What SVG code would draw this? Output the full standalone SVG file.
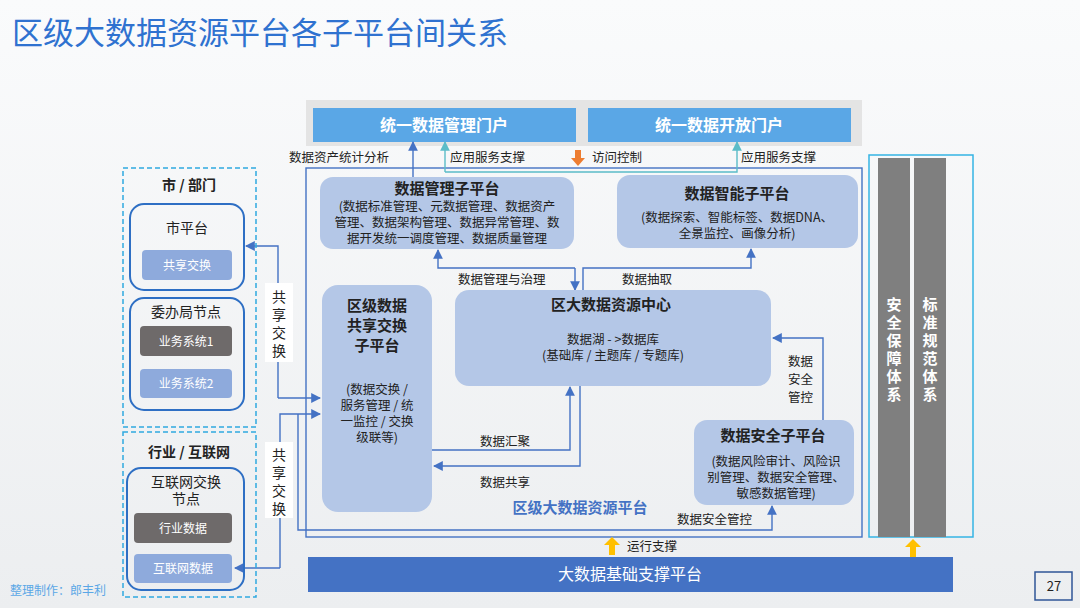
<svg xmlns="http://www.w3.org/2000/svg" width="1080" height="608" viewBox="0 0 1080 608">
<defs>
<style>
text{font-family:"Noto Sans CJK SC","Liberation Sans",sans-serif;fill:#222;}
.node{fill:#b4c7e7;}
.t{font-size:12.5px;}
.b{font-weight:bold;}
.w{fill:#fff;}
.ln{fill:none;stroke:#4472c4;stroke-width:1.4;}
.lt{fill:none;stroke:#5bbcc8;stroke-width:1.4;}
.dash{fill:none;stroke:#2fa9e0;stroke-width:1.5;stroke-dasharray:5 3;}
.ring{fill:none;stroke:#2e6fc4;stroke-width:2;}
</style>
<marker id="a" viewBox="0 0 10 10" refX="9" refY="5" markerWidth="7" markerHeight="7" orient="auto"><path d="M0,0L10,5L0,10z" fill="#4472c4"/></marker>
<marker id="at" viewBox="0 0 10 10" refX="9" refY="5" markerWidth="7" markerHeight="7" orient="auto"><path d="M0,0L10,5L0,10z" fill="#5bbcc8"/></marker>
<linearGradient id="bg" x1="0" y1="0" x2="0" y2="1"><stop offset="0" stop-color="#fafbfc"/><stop offset="1" stop-color="#eceef0"/></linearGradient>
</defs>
<rect width="1080" height="608" fill="url(#bg)"/>
<text x="12" y="44" style="font-size:31px;fill:#2f72d0">区级大数据资源平台各子平台间关系</text>

<g id="portals">
<rect x="306" y="100" width="556" height="46" fill="#e4e4e4"/>
<rect x="313" y="108" width="263" height="34" fill="#5aa7e6"/>
<text x="444" y="131" text-anchor="middle" class="w b" style="font-size:16px">统一数据管理门户</text>
<rect x="588" y="108" width="263" height="34" fill="#5aa7e6"/>
<text x="719" y="131" text-anchor="middle" class="w b" style="font-size:16px">统一数据开放门户</text>
</g>

<g id="connectors">
<rect x="306" y="168" width="556" height="369" class="ln"/>
<path d="M413,178V142" class="ln" marker-end="url(#a)"/>
<path d="M445,172H737V142" class="lt" marker-end="url(#at)"/>
<path d="M445,172V142" class="lt" marker-end="url(#at)"/>
<path d="M575,268H438V250" class="ln" marker-end="url(#a)"/>
<path d="M575,268V290" class="ln" marker-end="url(#a)"/>
<path d="M583,290V268H751V249" class="ln" marker-end="url(#a)"/>
<path d="M823,420V338H773" class="ln" marker-end="url(#a)"/>
<path d="M432,450H570V387" class="ln" marker-end="url(#a)"/>
<path d="M580,386V466H434" class="ln" marker-end="url(#a)"/>
<path d="M278,398V246H246" class="ln" marker-end="url(#a)"/>
<path d="M278,398H320" class="ln" marker-end="url(#a)"/>
<path d="M280,568V414H320" class="ln" marker-end="url(#a)"/>
<path d="M280,568H235" class="ln" marker-end="url(#a)"/>
<path d="M298,414V530H772V506" class="ln" marker-end="url(#a)"/>
<path d="M578,150V160" stroke="#ed7d31" stroke-width="6"/>
<path d="M571,158L578,166L585,158z" fill="#ed7d31"/>
<path d="M612,555V543" stroke="#ffc000" stroke-width="6"/>
<path d="M604,545L612,537L620,545z" fill="#ffc000"/>
<path d="M913,557V545" stroke="#ffc000" stroke-width="6"/>
<path d="M905,547L913,539L921,547z" fill="#ffc000"/>
</g>

<g id="labels" class="t">
<text x="289" y="162">数据资产统计分析</text>
<text x="450" y="162">应用服务支撑</text>
<text x="592" y="162">访问控制</text>
<text x="741" y="162">应用服务支撑</text>
<text x="458" y="284">数据管理与治理</text>
<text x="622" y="284">数据抽取</text>
<text x="788" y="366">数据</text><text x="788" y="384">安全</text><text x="788" y="402">管控</text>
<text x="480" y="446">数据汇聚</text>
<text x="480" y="487">数据共享</text>
<text x="677" y="524">数据安全管控</text>
<text x="627" y="551">运行支撑</text>
<text x="580" y="513" text-anchor="middle" class="b" style="font-size:15px;fill:#4472c4">区级大数据资源平台</text>
</g>

<g id="mgmt">
<rect x="320" y="177" width="254" height="72" rx="13" class="node"/>
<text x="447" y="194" text-anchor="middle" class="b" style="font-size:15px">数据管理子平台</text>
<text x="447" y="211" text-anchor="middle" class="t">(数据标准管理、元数据管理、数据资产</text>
<text x="447" y="227" text-anchor="middle" class="t">管理、数据架构管理、数据异常管理、数</text>
<text x="447" y="243" text-anchor="middle" class="t">据开发统一调度管理、数据质量管理</text>
</g>
<g id="intel">
<rect x="617" y="175" width="241" height="73" rx="13" class="node"/>
<text x="737" y="199" text-anchor="middle" class="b" style="font-size:15px">数据智能子平台</text>
<text x="737" y="222" text-anchor="middle" class="t">(数据探索、智能标签、数据DNA、</text>
<text x="737" y="238" text-anchor="middle" class="t">全景监控、画像分析)</text>
</g>
<g id="share">
<rect x="322" y="285" width="110" height="227" rx="16" class="node"/>
<text x="377" y="311" text-anchor="middle" class="b" style="font-size:15px">区级数据</text>
<text x="377" y="331" text-anchor="middle" class="b" style="font-size:15px">共享交换</text>
<text x="377" y="351" text-anchor="middle" class="b" style="font-size:15px">子平台</text>
<text x="377" y="394" text-anchor="middle" class="t">(数据交换 /</text>
<text x="377" y="410" text-anchor="middle" class="t">服务管理 / 统</text>
<text x="377" y="426" text-anchor="middle" class="t">一监控 / 交换</text>
<text x="377" y="442" text-anchor="middle" class="t">级联等)</text>
</g>
<g id="center">
<rect x="455" y="290" width="316" height="96" rx="14" class="node"/>
<text x="611" y="310" text-anchor="middle" class="b" style="font-size:15px">区大数据资源中心</text>
<text x="613" y="344" text-anchor="middle" class="t">数据湖 - &gt;数据库</text>
<text x="613" y="360" text-anchor="middle" class="t">(基础库 / 主题库 / 专题库)</text>
</g>
<g id="security">
<rect x="694" y="420" width="160" height="85" rx="13" class="node"/>
<text x="773" y="441" text-anchor="middle" class="b" style="font-size:15px">数据安全子平台</text>
<text x="776" y="466" text-anchor="middle" class="t">(数据风险审计、风险识</text>
<text x="776" y="482" text-anchor="middle" class="t">别管理、数据安全管理、</text>
<text x="776" y="498" text-anchor="middle" class="t">敏感数据管理)</text>
</g>

<g id="city">
<rect x="123" y="168" width="133" height="259" class="dash"/>
<text x="189" y="190" text-anchor="middle" class="b" style="font-size:14px">市 / 部门</text>
<rect x="130" y="204" width="114" height="86" rx="14" class="ring"/>
<text x="187" y="233" text-anchor="middle" style="font-size:14px">市平台</text>
<rect x="142" y="250" width="90" height="30" rx="4" fill="#8eaadc"/>
<text x="187" y="270" text-anchor="middle" class="w" style="font-size:12px">共享交换</text>
<rect x="130" y="298" width="114" height="112" rx="14" class="ring"/>
<text x="186" y="317" text-anchor="middle" style="font-size:14px">委办局节点</text>
<rect x="140" y="326" width="92" height="30" rx="4" fill="#6e6a6a"/>
<text x="186" y="346" text-anchor="middle" class="w" style="font-size:12px">业务系统1</text>
<rect x="140" y="369" width="92" height="29" rx="4" fill="#8eaadc"/>
<text x="186" y="388" text-anchor="middle" class="w" style="font-size:12px">业务系统2</text>
</g>
<g id="industry">
<rect x="123" y="432" width="133" height="165" class="dash"/>
<text x="189" y="457" text-anchor="middle" class="b" style="font-size:14px">行业 / 互联网</text>
<rect x="127" y="468" width="117" height="122" rx="14" class="ring"/>
<text x="186" y="487" text-anchor="middle" style="font-size:14px">互联网交换</text>
<text x="186" y="504" text-anchor="middle" style="font-size:14px">节点</text>
<rect x="134" y="513" width="98" height="30" rx="4" fill="#6e6a6a"/>
<text x="183" y="533" text-anchor="middle" class="w" style="font-size:12px">行业数据</text>
<rect x="134" y="554" width="98" height="29" rx="4" fill="#8eaadc"/>
<text x="183" y="573" text-anchor="middle" class="w" style="font-size:12px">互联网数据</text>
</g>
<g id="xlabels">
<rect x="265" y="283" width="28" height="79" fill="#fff"/>
<text x="279" y="302" text-anchor="middle" style="font-size:14px">共</text>
<text x="279" y="320" text-anchor="middle" style="font-size:14px">享</text>
<text x="279" y="338" text-anchor="middle" style="font-size:14px">交</text>
<text x="279" y="356" text-anchor="middle" style="font-size:14px">换</text>
<rect x="265" y="442" width="28" height="76" fill="#fff"/>
<text x="279" y="460" text-anchor="middle" style="font-size:14px">共</text>
<text x="279" y="478" text-anchor="middle" style="font-size:14px">享</text>
<text x="279" y="496" text-anchor="middle" style="font-size:14px">交</text>
<text x="279" y="514" text-anchor="middle" style="font-size:14px">换</text>
</g>
<g id="systems">
<rect x="869" y="155" width="104" height="382" fill="none" stroke="#34b4e4" stroke-width="1.5"/>
<rect x="878" y="158" width="32" height="379" fill="#7f7f7f"/>
<rect x="914" y="158" width="32" height="379" fill="#7f7f7f"/>
<g class="w b" style="font-size:15px" text-anchor="middle">
<text x="894" y="310" class="w">安</text><text x="894" y="328" class="w">全</text><text x="894" y="346" class="w">保</text><text x="894" y="364" class="w">障</text><text x="894" y="382" class="w">体</text><text x="894" y="400" class="w">系</text>
<text x="930" y="310" class="w">标</text><text x="930" y="328" class="w">准</text><text x="930" y="346" class="w">规</text><text x="930" y="364" class="w">范</text><text x="930" y="382" class="w">体</text><text x="930" y="400" class="w">系</text>
</g>
</g>
<g id="base">
<rect x="308" y="557" width="645" height="35" fill="#4472c4"/>
<text x="630" y="580" text-anchor="middle" class="w" style="font-size:16px">大数据基础支撑平台</text>
</g>
<rect x="1035" y="572" width="37" height="28" fill="none" stroke="#2f5597" stroke-width="1.5"/>
<text x="1054" y="591" text-anchor="middle" style="font-size:13px">27</text>
<text x="10" y="595" style="font-size:12px;fill:#5aa7e6">整理制作：郎丰利</text>
</svg>
